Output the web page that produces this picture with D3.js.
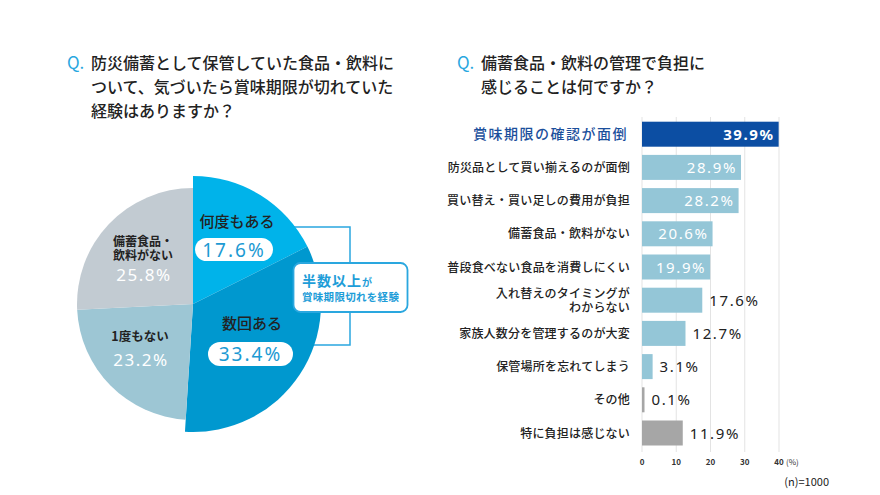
<!DOCTYPE html>
<html><head><meta charset="utf-8">
<script src="https://cdn.jsdelivr.net/npm/d3@7/dist/d3.min.js"></script>
<style>
body{margin:0;background:#fff;}
svg{display:block;}
text{font-family:"Noto Sans CJK JP","Noto Sans",sans-serif;}
.num{font-family:"Noto Sans","Liberation Sans",sans-serif;}
</style></head>
<body>
<svg id="c" width="880" height="495"></svg>
<script>
// ---- data ----
const pieTitle = ["防災備蓄として保管していた食品・飲料に","ついて、気づいたら賞味期限が切れていた","経験はありますか？"];
const pieLabels = ["何度もある","数回ある","1度もない","備蓄食品・\n飲料がない"];
const pieValues = [17.6, 33.4, 23.2, 25.8];
const pieColors = ["#00b3ea","#0098cf","#9dc6d4","#c2cbd2"];
const calloutText = ["半数以上","が","賞味期限切れを経験"];

const barTitle = ["備蓄食品・飲料の管理で負担に","感じることは何ですか？"];
const barCategories = ["賞味期限の確認が面倒","防災品として買い揃えるのが面倒","買い替え・買い足しの費用が負担","備蓄食品・飲料がない","普段食べない食品を消費しにくい","入れ替えのタイミングが\nわからない","家族人数分を管理するのが大変","保管場所を忘れてしまう","その他","特に負担は感じない"];
const barValues = [39.9, 28.9, 28.2, 20.6, 19.9, 17.6, 12.7, 3.1, 0.1, 11.9];
const barColors = ["#0c4ea3","#94c6d7","#94c6d7","#94c6d7","#94c6d7","#94c6d7","#94c6d7","#94c6d7","#a6a6a6","#a6a6a6"];
const xTicks = [0, 10, 20, 30, 40];
const sampleNote = "(n)=1000";

const svg = d3.select("#c");

// ---- titles ----
function title(x, y, lines){
  svg.append("text").attr("x", x).attr("y", y).attr("font-size", 17).attr("fill", "#2aa7df")
    .attr("font-family", "Noto Sans, sans-serif").text("Q.");
  lines.forEach((l, i) => svg.append("text").attr("x", x + 24).attr("y", y + i * 24)
    .attr("font-size", 16).attr("font-weight", 500).attr("fill", "#222").text(l));
}
title(67, 69, pieTitle);
title(457, 69, barTitle);

// multi-line text as one element
function multi(x, y0, str, lh, attrs){
  const t = svg.append("text").attr("x", x).attr("y", y0);
  Object.entries(attrs).forEach(([k, v]) => t.attr(k, v));
  str.split("\n").forEach((l, j) => t.append("tspan").attr("x", x).attr("dy", j ? lh : 0).text(l));
  return t;
}

// ---- pie ----
const cx = 193, cy = 304;
const g = svg.append("g").attr("transform", `translate(${cx},${cy})`);
const bc = "#2aa7df";
// bracket behind pie
g.append("path").attr("d", `M${290-cx},${227-cy}H${350-cx}V${345-cy}H${290-cx}`)
  .attr("fill", "none").attr("stroke", bc).attr("stroke-width", 1.5);

const pie = d3.pie().sort(null).value(d => d)(pieValues);
const rOut = i => i < 2 ? 128 : 116;
pie.forEach((d, i) => {
  g.append("path").attr("d", d3.arc().innerRadius(0).outerRadius(rOut(i))(d)).attr("fill", pieColors[i]);
});

// callout box
svg.append("rect").attr("x", 293.5).attr("y", 263).attr("width", 114).attr("height", 49).attr("rx", 7)
  .attr("fill", "#fff").attr("stroke", bc).attr("stroke-width", 1.8);
const ct = svg.append("text").attr("x", 302).attr("y", 285.5).attr("fill", "#1e9dd8").attr("font-weight", 700);
ct.append("tspan").attr("font-size", 14).attr("letter-spacing", 1).text(calloutText[0]);
ct.append("tspan").attr("font-size", 10).text(calloutText[1]);
svg.append("text").attr("x", 302).attr("y", 301).attr("fill", "#1e9dd8").attr("font-weight", 700)
  .attr("font-size", 10.5).attr("letter-spacing", 0.3).text(calloutText[2]);

// pie labels
const fmt = v => v.toFixed(1) + "%";
function pill(x, y, w, h, v){
  svg.append("rect").attr("x", x).attr("y", y).attr("width", w).attr("height", h).attr("rx", h/2).attr("fill", "#fff");
  svg.append("text").attr("class","num").attr("x", x + w/2).attr("y", y + h/2 + 7).attr("text-anchor", "middle")
    .attr("font-size", 19).attr("letter-spacing", 2).attr("fill", "#1c9ad3").text(v);
}
svg.append("text").attr("x", 237).attr("y", 227).attr("text-anchor", "middle").attr("font-size", 15).attr("font-weight", 500).attr("fill", "#222").text(pieLabels[0]);
pill(195, 238, 78, 23, fmt(pieValues[0]));
svg.append("text").attr("x", 252).attr("y", 329).attr("text-anchor", "middle").attr("font-size", 15).attr("font-weight", 500).attr("fill", "#222").text(pieLabels[1]);
pill(208, 342, 85, 24, fmt(pieValues[1]));
// gray labels
multi(143, 245.5, pieLabels[3], 14, {"text-anchor": "middle", "font-size": 12, "font-weight": 700, "fill": "#222"});
svg.append("text").attr("class","num").attr("x", 144).attr("y", 281).attr("text-anchor", "middle").attr("font-size", 17)
  .attr("letter-spacing", 1.5).attr("fill", "#fff").text(fmt(pieValues[3]));
svg.append("text").attr("x", 140).attr("y", 341).attr("text-anchor", "middle").attr("font-size", 12.5).attr("font-weight", 700).attr("fill", "#222").text(pieLabels[2]);
svg.append("text").attr("class","num").attr("x", 141).attr("y", 366).attr("text-anchor", "middle").attr("font-size", 17)
  .attr("letter-spacing", 1.5).attr("fill", "#fff").text(fmt(pieValues[2]));

// ---- bar chart ----
const x = d3.scaleLinear().domain([0, 40]).range([642, 779]);
const y = d3.scaleBand().domain(barCategories).range([117.6, 449.6]).paddingInner(0.247).paddingOuter(0.1235);

// grid
svg.append("g").selectAll("line").data(xTicks).join("line")
  .attr("x1", d => x(d)).attr("x2", d => x(d)).attr("y1", 117).attr("y2", 452)
  .attr("stroke", "#e3e3e3").attr("stroke-width", 1);
// tick labels
svg.append("g").selectAll("text").data(xTicks).join("text")
  .attr("x", d => x(d)).attr("y", 465).attr("text-anchor", "middle")
  .attr("font-size", 8).attr("font-weight", 700).attr("fill", "#333").text(d => d);
svg.append("text").attr("x", 786).attr("y", 465).attr("font-size", 8).attr("fill", "#333").text("(%)");
svg.append("text").attr("x", 829).attr("y", 486).attr("text-anchor", "end").attr("font-size", 11).attr("fill", "#222").text(sampleNote);

// bars
svg.append("g").selectAll("rect").data(barValues).join("rect")
  .attr("x", x(0)).attr("y", (d, i) => y(barCategories[i]))
  .attr("width", d => Math.max(x(d) - x(0), 2.5)).attr("height", y.bandwidth())
  .attr("fill", (d, i) => barColors[i]);

// category labels
barCategories.forEach((c, i) => {
  const yc = y(c) + y.bandwidth() / 2;
  const n = c.split("\n").length;
  const hl = i === 0;
  multi(hl ? 628 : 630, yc + 4.5 - (n - 1) / 2 * 14, c, 14, {
    "text-anchor": "end", "font-size": hl ? 14 : 12, "font-weight": 500,
    "letter-spacing": hl ? 1.5 : 0.2, "fill": hl ? "#1b4f9c" : "#222"});
});

// value labels
barValues.forEach((v, i) => {
  const yc = y(barCategories[i]) + y.bandwidth() / 2;
  const inside = v > 19;
  svg.append("text").attr("class","num")
    .attr("x", inside ? x(v) - 4 : Math.max(x(v), x(0) + 2.5) + 7)
    .attr("y", yc + 5.5).attr("text-anchor", inside ? "end" : "start")
    .attr("font-size", 15).attr("letter-spacing", 1.6)
    .attr("font-weight", i === 0 ? 700 : 400)
    .attr("fill", inside ? "#fff" : "#222").text(fmt(v));
});
</script>
</body></html>
